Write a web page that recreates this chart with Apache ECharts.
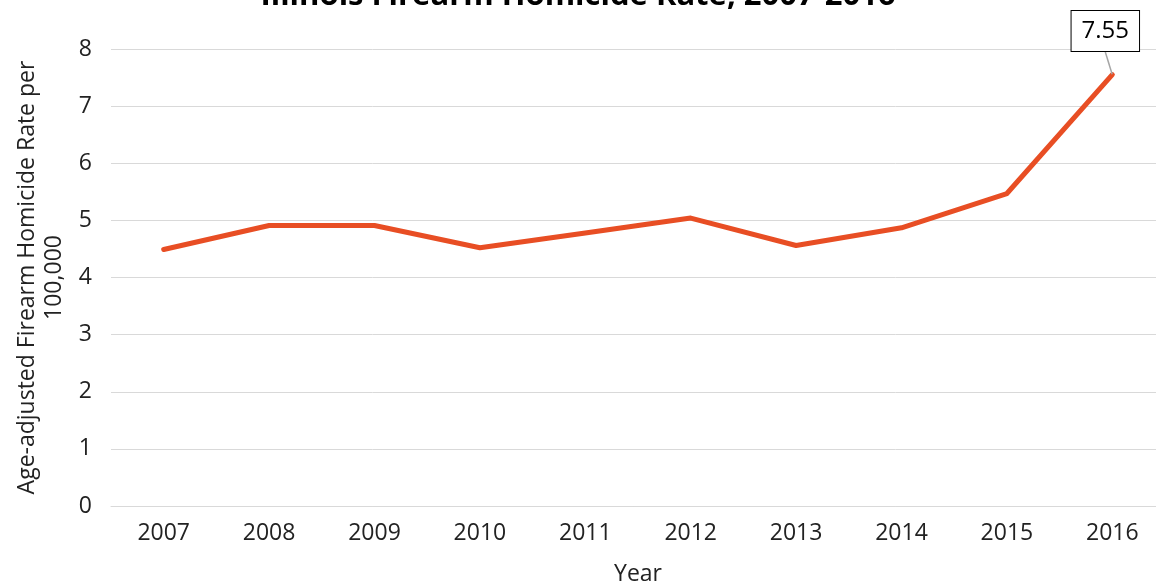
<!DOCTYPE html>
<html><head><meta charset="utf-8">
<script src="https://cdn.jsdelivr.net/npm/echarts@6/dist/echarts.min.js"></script>
<style>html,body{margin:0;padding:0;background:#fff}#c{width:1156px;height:588px}</style>
</head><body><div id="c"></div>
<script>
const years = ['2007','2008','2009','2010','2011','2012','2013','2014','2015','2016'];
const rates = [4.49, 4.91, 4.91, 4.52, 4.78, 5.04, 4.56, 4.87, 5.47, 7.55];
const yTicks = [0,1,2,3,4,5,6,7,8];
const titleText = 'Illinois Firearm Homicide Rate, 2007-2016';
const yName = 'Age-adjusted Firearm Homicide Rate per\n100,000';
const xName = 'Year';
const F = 'Open Sans';
const chart = echarts.init(document.getElementById('c'), null, {renderer:'canvas'});
chart.setOption({
  animation:false,
  backgroundColor:'#fff',
  title:{text:titleText,left:'center',top:-24,textStyle:{fontFamily:F,fontSize:31,fontWeight:'bold',color:'#000'}},
  grid:{left:111,width:1054,top:49,height:457,outerBoundsMode:'none',containLabel:false},
  xAxis:{type:'category',data:years,boundaryGap:true,
    name:xName,nameLocation:'middle',nameGap:57,nameTextStyle:{fontFamily:F,fontSize:23,color:'#222'},
    axisLine:{lineStyle:{color:'#d9d9d9'}},axisTick:{show:false},
    axisLabel:{fontFamily:F,fontSize:23,color:'#222',margin:16}},
  yAxis:{type:'value',min:yTicks[0],max:yTicks[yTicks.length-1],interval:1,
    name:yName,nameLocation:'middle',nameGap:37,nameTextStyle:{fontFamily:F,fontSize:23,color:'#222',lineHeight:27},
    axisLine:{show:false},axisTick:{show:false},
    axisLabel:{fontFamily:F,fontSize:23,color:'#222',margin:19},
    splitLine:{lineStyle:{color:'#d9d9d9',width:1}}},
  series:[{type:'line',data:rates.map((v,i)=>i===rates.length-1?{value:v,label:{show:true}}:v),
    symbol:'circle',symbolSize:1,showSymbol:true,itemStyle:{color:'rgba(0,0,0,0)'},
    lineStyle:{color:'#e84e24',width:5,cap:'round',join:'round'},
    label:{show:false,fontFamily:F,fontSize:24,color:'#000',backgroundColor:'#fff',borderColor:'#000',borderWidth:1,padding:[9,10,7,10],position:'top',formatter:p=>p.value.toFixed(2)},
    labelLine:{show:true,lineStyle:{color:'#a6a6a6',width:1.5}},
    labelLayout:p=>p.dataIndex===rates.length-1?{x:p.rect.x+p.rect.width/2-7,y:31,align:'center',verticalAlign:'middle'}:{}
  }]
});
</script></body></html>
